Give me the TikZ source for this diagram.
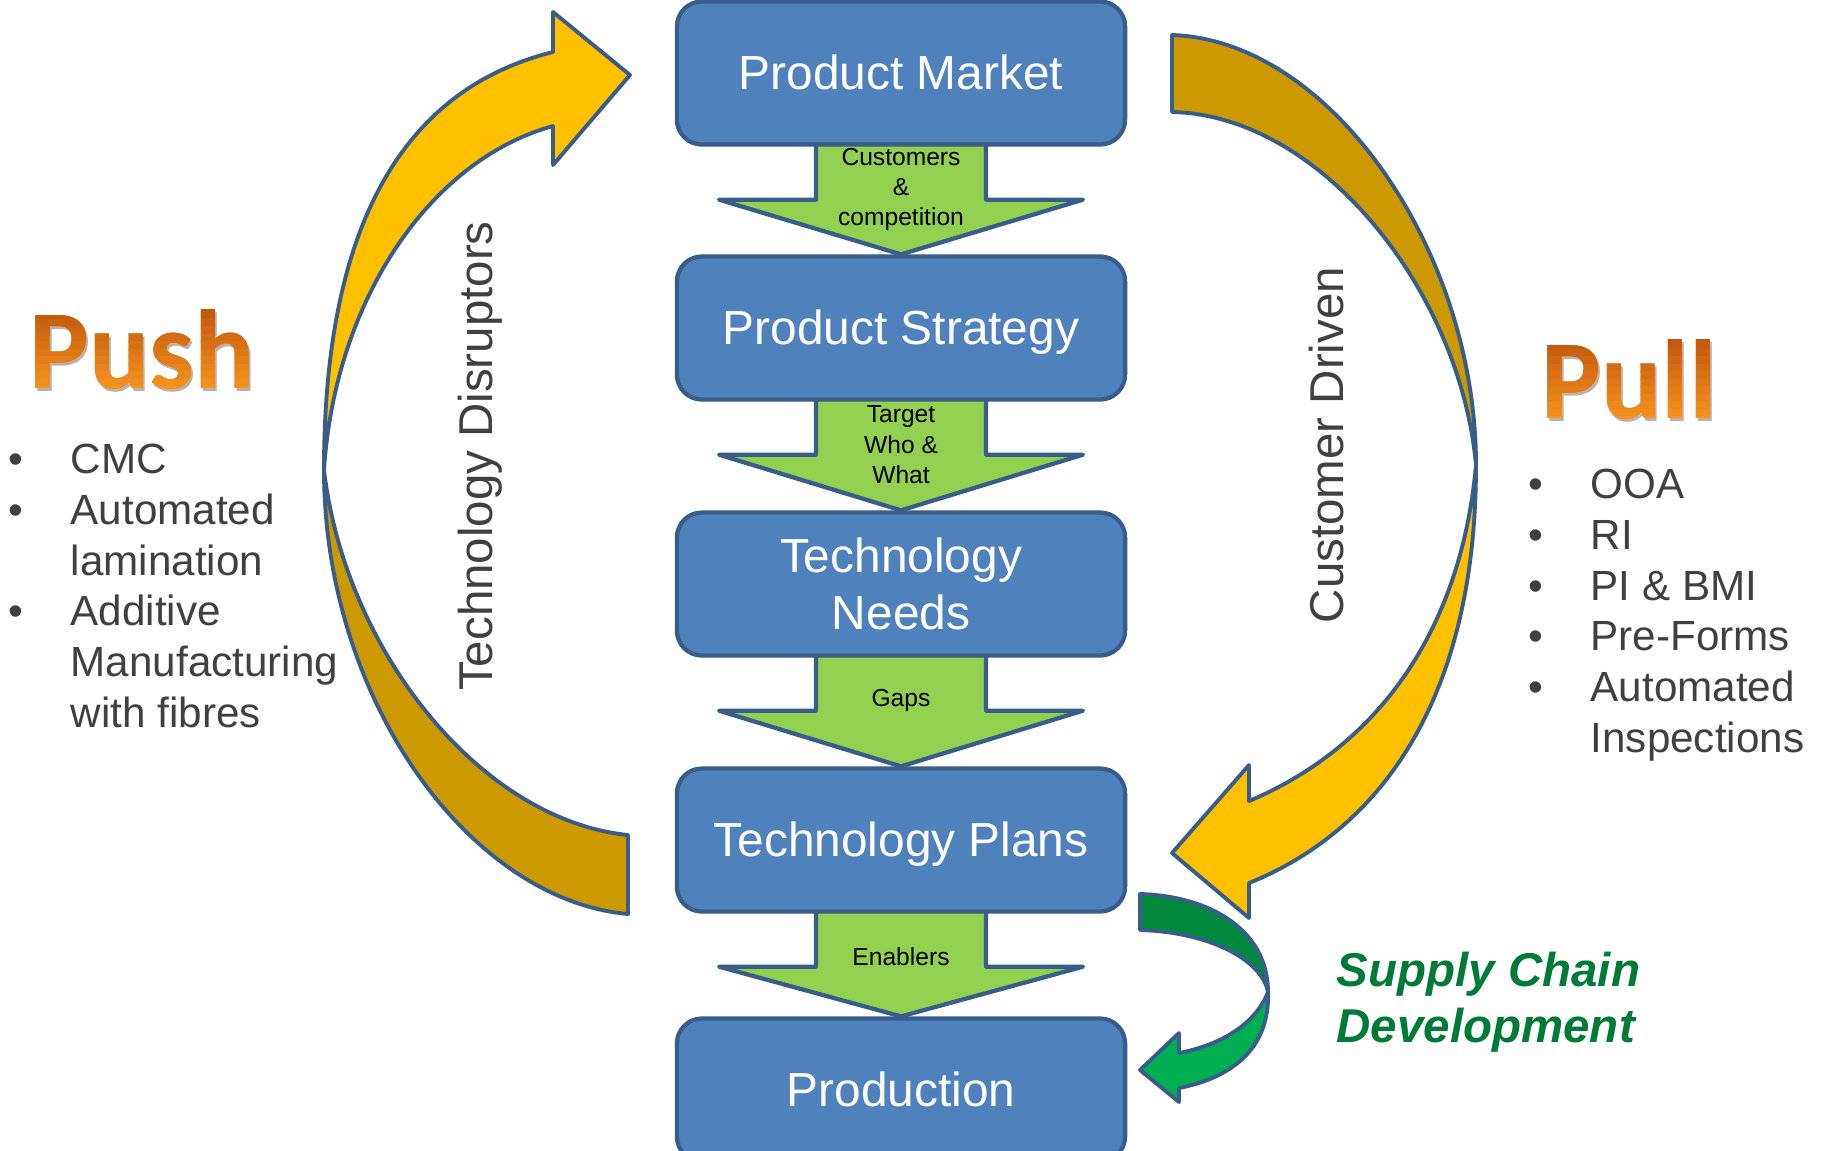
\documentclass[tikz,border=0pt]{standalone}
\usepackage{fontspec}
\setmainfont{Liberation Sans}
\newfontfamily\calibri{Carlito}
\usetikzlibrary{calc,backgrounds}
\definecolor{boxblue}{HTML}{4F81BD}
\definecolor{boxline}{HTML}{385D8A}
\definecolor{stagegreen}{HTML}{92D050}
\definecolor{loopyellow}{HTML}{FFC000}
\definecolor{loopgold}{HTML}{CC9900}
\definecolor{chaindark}{HTML}{00893C}
\definecolor{chainlight}{HTML}{00B050}
\definecolor{chaintext}{HTML}{007A37}
\definecolor{orangedark}{HTML}{BF550C}
\definecolor{orangelight}{HTML}{F7931E}
\definecolor{darktext}{HTML}{404040}
\tikzset{
  stage/.style={draw=boxline,line width=1.2pt,fill=boxblue,rounded corners=0.25cm,
    minimum width=4.48cm,minimum height=1.43cm,text=white,align=center,
    font=\fontsize{13.6}{16.2}\selectfont},
  oneline/.style={text height=12.3pt,text depth=2.9pt},
  blockarrow/.style={draw=boxline,line width=1.2pt,line join=round,fill=stagegreen},
  steplabel/.style={align=center,inner sep=0pt,font=\fontsize{7}{8.6}\selectfont},
  band/.style={draw=boxline,line width=1.1pt,line join=round},
  sidetext/.style={text=darktext,rotate=90,font=\fontsize{13.5}{16}\selectfont},
  bigword/.style={anchor=base,inner sep=0pt,font=\calibri\bfseries\fontsize{32}{36}\selectfont},
  bulletlist/.style={text=darktext,anchor=base west,inner sep=0pt,font=\fontsize{12}{14.5}\selectfont}
}
% green block arrow from one stage to the next
\newcommand{\linkarrow}[3]{%
  \begin{scope}[on background layer]
  \draw[blockarrow]($(#1.south)+(-85,-6)$)--($(#1.south)+(-85,53)$)--($(#1.south)+(-182,53)$)
    --(#2.north)--($(#1.south)+(182,53)$)--($(#1.south)+(85,53)$)--($(#1.south)+(85,-6)$);
  \end{scope}
  \node[steplabel](#1lbl) at ($(#1.south)+(0,43)$){#3};
}
% orange word, shaded from top to bottom in thin bands
\newcommand{\gradword}[3]{%
  \node[bigword,text=orangedark!40!black,opacity=0.35] at ($#2+(2,3)$){#3};
  \node[bigword,text=orangedark!50!orangelight](#1) at #2{#3};
  \foreach \i in {0,...,11}{
    \pgfmathtruncatemacro\mix{100-\i*100/11}
    \begin{scope}
    \clip ($#2+(-200,-84+\i*7.5)$) rectangle ($#2+(200,-84+\i*7.5+7.6)$);
    \node[bigword,text=orangedark!\mix!orangelight] at #2{#3};
    \end{scope}
  }
}
\begin{document}
\begin{tikzpicture}[x=0.01cm,y=-0.01cm]
\useasboundingbox(0,0) rectangle (1821,1150);
\begin{scope}[on background layer]
\fill[white](0,0) rectangle (1821,1150);
\end{scope}
% stages
\node[stage,oneline](pm) at (901,73){Product Market};
\node[stage,oneline](ps) at (901,328){Product Strategy};
\node[stage](tn) at (901,584){Technology\\Needs};
\node[stage,oneline](tp) at (901,840){Technology Plans};
\node[stage,oneline](prod) at (901,1090){Production};
\linkarrow{pm}{ps}{Customers\\\&\\competition}
\linkarrow{ps}{tn}{Target\\Who \&\\What}
\linkarrow{tn}{tp}{Gaps}
\linkarrow{tp}{prod}{Enablers}
% push loop
\draw[band,fill=loopgold](324,470) .. controls (324,700) and (470,900) .. (628,914)--(628,835)
  .. controls (480,820) and (345,650) .. (324,470)--cycle;
\draw[band,fill=loopyellow](324,470) .. controls (324,230) and (400,90) .. (553,52)--(553,12)--(630,75)
  --(553,165)--(553,126) .. controls (430,160) and (335,300) .. (324,470)--cycle;
\node[sidetext](disrupt) at (480,456){Technology Disruptors};
% pull loop
\draw[band,fill=loopgold](1172,35) .. controls (1330,40) and (1476,250) .. (1476,465)
  .. controls (1460,290) and (1320,115) .. (1172,112)--cycle;
\draw[band,fill=loopyellow](1476,465) .. controls (1476,700) and (1380,830) .. (1249,883)--(1249,918)--(1172,853)
  --(1249,765)--(1249,801) .. controls (1370,750) and (1460,640) .. (1476,465)--cycle;
\node[sidetext](driven) at (1327,445){Customer Driven};
% supply chain
\draw[band,fill=chaindark](1140,894) .. controls (1210,896) and (1268,930) .. (1268,992)
  .. controls (1262,960) and (1210,932) .. (1140,930)--cycle;
\draw[band,fill=chainlight](1268,992) .. controls (1270,1050) and (1230,1078) .. (1179,1088)--(1179,1102)--(1140,1070)
  --(1179,1033)--(1179,1053) .. controls (1220,1045) and (1255,1025) .. (1268,992)--cycle;
\node[anchor=base west,inner sep=0pt,text=chaintext,font=\bfseries\itshape\fontsize{13.5}{16}\selectfont](chain)
  at (1336,986){\begin{tabular}[t]{@{}l@{}}Supply Chain\\Development\end{tabular}};
% push and pull lists
\gradword{push}{(142,388)}{Push}
\gradword{pull}{(1629,418)}{Pull}
\node[bulletlist](pushlist) at (8,473){\begin{tabular}[t]{@{}p{0.62cm}@{}l@{}}
  \textbullet & CMC\\ \textbullet & Automated\\ & lamination\\ \textbullet & Additive\\ & Manufacturing\\ & with fibres
  \end{tabular}};
\node[bulletlist](pulllist) at (1528,498){\begin{tabular}[t]{@{}p{0.62cm}@{}l@{}}
  \textbullet & OOA\\ \textbullet & RI\\ \textbullet & PI \& BMI\\ \textbullet & Pre-Forms\\ \textbullet & Automated\\ & Inspections
  \end{tabular}};
\end{tikzpicture}
\end{document}
